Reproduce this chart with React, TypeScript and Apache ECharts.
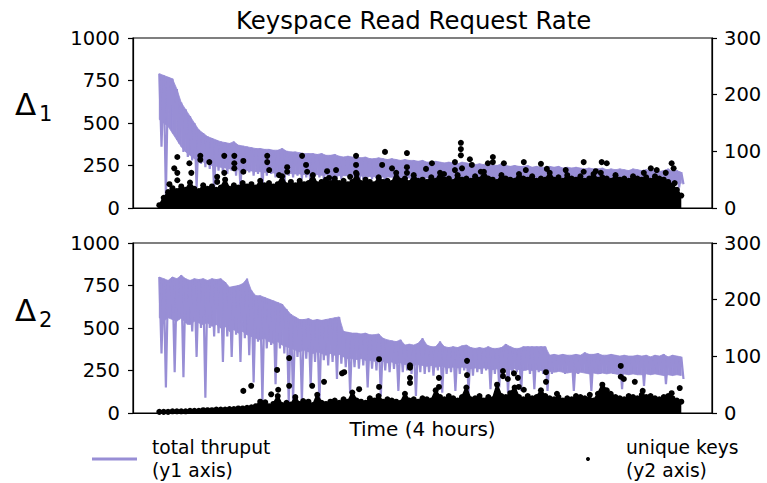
import React, { useEffect, useRef } from "react";
import * as echarts from "echarts";

// time axis: minutes over 4 hours, one bin = 2 minutes
const BIN_MINUTES = 2;

// Panel Δ1 – total thruput, upper envelope per bin (y1 axis)
const thruput1Hi = [
  790, 780, 770, 760, 700, 620, 580, 540, 500, 460,
  440, 420, 410, 400, 390, 385, 380, 390, 370, 365,
  360, 355, 350, 350, 345, 345, 340, 340, 350, 335,
  330, 330, 325, 320, 320, 320, 315, 320, 310, 310,
  315, 305, 300, 305, 300, 300, 295, 300, 290, 290,
  295, 290, 285, 290, 285, 280, 285, 280, 280, 275,
  280, 270, 270, 275, 270, 265, 270, 265, 260, 270,
  265, 260, 255, 260, 255, 250, 255, 250, 260, 250,
  245, 250, 245, 245, 250, 240, 245, 240, 240, 245,
  240, 245, 235, 240, 235, 240, 235, 230, 235, 230,
  230, 235, 225, 230, 225, 230, 225, 220, 230, 225,
  220, 225, 220, 225, 215, 220, 230, 215, 220, 210,
];
// Panel Δ1 – total thruput, lower edge of the solid band per bin
const thruput1Floor = [
  520, 500, 480, 440, 400, 360, 330, 310, 290, 280,
  270, 262, 250, 246, 240, 236, 230, 228, 224, 222,
  220, 218, 214, 214, 210, 210, 206, 206, 205, 202,
  203, 200, 200, 197, 198, 196, 196, 193, 194, 192,
  192, 190, 190, 189, 189, 186, 188, 186, 186, 184,
  185, 182, 184, 181, 182, 180, 181, 178, 180, 177,
  178, 176, 177, 174, 176, 173, 175, 172, 174, 171,
  172, 170, 171, 169, 170, 168, 169, 166, 168, 166,
  167, 165, 166, 163, 165, 162, 164, 161, 163, 160,
  162, 159, 161, 158, 160, 157, 159, 156, 158, 155,
  157, 154, 156, 153, 155, 152, 154, 151, 153, 150,
  152, 149, 151, 148, 150, 147, 149, 146, 148, 145,
];
// Panel Δ1 – total thruput, lower excursions per bin
const thruput1Lo = [
  360, 70, 560, 440, 380, 330, 300, 280, 120, 260,
  240, 230, 100, 220, 210, 200, 220, 190, 120, 200,
  210, 190, 200, 110, 190, 200, 180, 190, 120, 190,
  180, 190, 170, 180, 110, 190, 180, 170, 180, 120,
  180, 170, 190, 170, 180, 100, 170, 180, 170, 175,
  170, 120, 180, 170, 175, 165, 170, 110, 170, 165,
  170, 165, 160, 170, 120, 165, 160, 170, 165, 110,
  160, 165, 170, 160, 120, 165, 160, 155, 165, 110,
  160, 155, 165, 160, 120, 155, 160, 150, 160, 155,
  110, 155, 150, 160, 155, 150, 120, 155, 150, 160,
  150, 155, 110, 150, 155, 145, 150, 120, 150, 145,
  150, 140, 145, 110, 150, 140, 145, 140, 120, 140,
];
// Panel Δ1 – unique keys, top of the dense cloud per bin (y2 axis)
const keys1 = [
  5, 18, 28, 35, 30, 38, 32, 45, 34, 30,
  40, 34, 38, 32, 36, 50, 34, 40, 36, 44,
  38, 42, 36, 48, 40, 44, 38, 42, 56, 40,
  46, 40, 48, 42, 44, 58, 42, 46, 50, 44,
  52, 44, 48, 42, 46, 60, 44, 50, 46, 42,
  54, 46, 48, 44, 62, 48, 52, 44, 58, 48,
  50, 46, 54, 48, 62, 50, 52, 46, 58, 50,
  52, 48, 56, 50, 64, 52, 50, 46, 58, 52,
  50, 48, 60, 52, 50, 56, 48, 52, 50, 62,
  50, 54, 48, 58, 52, 50, 56, 48, 52, 60,
  50, 54, 52, 48, 58, 50, 52, 48, 56, 52,
  50, 54, 48, 56, 52, 50, 46, 40, 32, 22,
];
// Panel Δ1 – unique keys, isolated high points [minute, keys]
const keys1Outliers = [
  [4.6, 42], [6.8, 70], [8.2, 90], [8.2, 62], [8.2, 49], [13.7, 79], [14.6, 62],
  [18.7, 92], [18.7, 85], [22.8, 81], [26.4, 55], [26.4, 46], [29.6, 92], [29.6, 62],
  [34.2, 92], [34.2, 79], [34.2, 70], [38.3, 83], [38.3, 64], [49.2, 92], [49.2, 81],
  [50.1, 67], [54.6, 58], [58.3, 72], [58.3, 64], [65.1, 92], [66.9, 76], [67.4, 64],
  [76.5, 65], [77.4, 53], [80.6, 67], [87.0, 55], [89.7, 92], [89.7, 76], [89.7, 62],
  [101.6, 76], [102.9, 99], [106.1, 70], [112.9, 97], [112.9, 72], [112.9, 62],
  [121.6, 69], [124.3, 79], [129.8, 60], [134.8, 81], [134.8, 67], [137.5, 115],
  [137.5, 104], [137.5, 93], [138.0, 70], [141.6, 86], [142.5, 76], [146.6, 64],
  [149.8, 79], [152.1, 90], [152.1, 81], [157.1, 79], [166.2, 81], [167.1, 67],
  [174.0, 78], [176.7, 69], [185.3, 67], [193.5, 81], [193.5, 64], [199.0, 65],
  [201.3, 62], [201.7, 81], [204.0, 79], [209.5, 48], [220.9, 62], [224.1, 70],
  [226.8, 67], [230.9, 62], [233.6, 79], [234.5, 70], [235.0, 44],
];

// Panel Δ2 – total thruput, upper envelope per bin (y1 axis)
const thruput2Hi = [
  800, 790, 780, 800, 790, 810, 790, 780, 790, 785,
  790, 780, 790, 785, 790, 770, 740, 745, 750, 760,
  790, 720, 690, 690, 680, 670, 660, 650, 640, 610,
  580, 565, 550, 550, 555, 545, 550, 545, 550, 555,
  560, 565, 480, 475, 470, 470, 465, 470, 460, 460,
  465, 440, 430, 425, 420, 430, 400, 405, 400, 410,
  440, 400, 390, 390, 420, 390, 385, 390, 385, 395,
  400, 385, 380, 385, 380, 390, 380, 380, 385, 405,
  390, 380, 380, 390, 390, 390, 390, 390, 390, 340,
  345, 340, 345, 340, 340, 345, 340, 355, 345, 345,
  350, 340, 340, 345, 340, 335, 340, 335, 335, 340,
  335, 340, 330, 340, 335, 345, 330, 340, 335, 330,
];
// Panel Δ2 – total thruput, lower edge of the solid band per bin
const thruput2Floor = [
  560, 540, 560, 550, 540, 560, 530, 520, 540, 530,
  520, 530, 510, 520, 500, 510, 480, 490, 470, 480,
  460, 450, 440, 430, 440, 420, 410, 420, 400, 390,
  380, 370, 360, 370, 360, 350, 360, 350, 340, 350,
  340, 345, 330, 320, 320, 315, 320, 310, 310, 305,
  300, 305, 295, 300, 290, 295, 285, 290, 280, 285,
  280, 275, 280, 270, 275, 270, 265, 270, 265, 270,
  265, 260, 265, 260, 265, 260, 255, 260, 255, 260,
  255, 260, 255, 250, 255, 250, 255, 250, 250, 245,
  240, 245, 240, 235, 240, 235, 240, 235, 230, 235,
  230, 235, 230, 235, 230, 225, 230, 225, 230, 225,
  225, 230, 225, 230, 225, 220, 225, 220, 225, 220,
];
// Panel Δ2 – total thruput, lower excursions per bin
const thruput2Lo = [
  350, 150, 580, 240, 550, 210, 520, 480, 330, 500,
  90, 500, 450, 470, 300, 450, 330, 460, 300, 440,
  340, 180, 420, 65, 380, 400, 170, 380, 350, 60,
  70, 330, 60, 320, 160, 300, 50, 310, 280, 300,
  200, 290, 270, 120, 270, 260, 280, 150, 260, 250,
  100, 250, 240, 260, 130, 240, 250, 230, 100, 240,
  230, 240, 220, 250, 120, 230, 240, 130, 230, 250,
  120, 220, 240, 230, 250, 140, 230, 150, 240, 120,
  230, 240, 130, 250, 230, 140, 240, 230, 130, 230,
  240, 250, 230, 240, 130, 230, 250, 240, 130, 240,
  230, 250, 240, 230, 250, 140, 240, 230, 250, 240,
  160, 240, 250, 230, 240, 170, 250, 240, 230, 200,
];
// Panel Δ2 – unique keys, top of the dense cloud per bin (y2 axis)
const keys2 = [
  2, 2, 2, 3, 3, 3, 3, 4, 4, 4,
  5, 5, 5, 6, 6, 6, 7, 7, 8, 8,
  9, 10, 12, 20, 14, 12, 16, 30, 14, 18,
  15, 28, 16, 18, 20, 14, 32, 18, 16, 20,
  22, 18, 24, 20, 36, 22, 20, 18, 26, 22,
  30, 20, 24, 22, 20, 18, 34, 22, 24, 20,
  26, 24, 22, 40, 28, 24, 30, 26, 22, 28,
  45, 24, 26, 30, 22, 28, 24, 50, 30, 28,
  35, 45, 28, 24, 30, 26, 28, 40, 30, 26,
  24, 28, 22, 26, 24, 30, 28, 26, 24, 22,
  34, 50, 40, 30, 28, 26, 24, 30, 28, 26,
  32, 28, 30, 26, 24, 28, 30, 26, 22, 20,
];
// Panel Δ2 – unique keys, isolated high points [minute, keys]
const keys2Outliers = [
  [59.2, 97], [53.7, 76], [100.2, 95], [114.3, 84], [114.3, 80], [114.3, 62],
  [114.3, 53], [38.3, 39], [41.9, 48], [54.2, 41], [59.2, 48], [69.7, 48],
  [75.1, 55], [83.3, 70], [84.3, 72], [91.1, 42], [100.2, 46], [48.3, 19],
  [51.0, 33], [65.6, 21], [140.3, 92], [140.3, 67], [127.5, 62], [127.5, 46],
  [156.7, 74], [156.7, 65], [158.9, 60], [161.7, 70], [163.5, 62], [163.9, 46],
  [166.2, 41], [176.3, 72], [176.3, 55], [181.3, 34], [190.4, 26], [196.3, 32],
  [205.8, 34], [210.4, 83], [210.4, 64], [211.8, 60], [216.8, 55], [220.4, 39],
  [233.6, 35], [237.3, 44],
];

const y1Ticks = [0, 250, 500, 750, 1000];
const y2Ticks = [0, 100, 200, 300];

const TITLE = "Keyspace Read Request Rate";
const X_LABEL = "Time (4 hours)";
const THRU_NAME = "total thruput\n(y1 axis)";
const KEYS_NAME = "unique keys\n(y2 axis)";

const PURPLE = "#988ED5";
const FONT = "DejaVu Sans";

function zigzag(hi: number[], lo: number[]) {
  const out: number[][] = [];
  hi.forEach((h, i) => {
    out.push([i * BIN_MINUTES, h]);
    out.push([i * BIN_MINUTES + BIN_MINUTES / 2, lo[i]]);
  });
  return out;
}
function bins(v: number[]) {
  return v.map((k, i) => [i * BIN_MINUTES, k]);
}
// one quad per pair of neighbouring bins: [t0, hi0, floor0, t1, hi1, floor1]
function bandSegments(hi: number[], floor: number[]) {
  const out: number[][] = [];
  for (let i = 0; i < hi.length - 1; i++) {
    out.push([i * BIN_MINUTES, hi[i], floor[i], (i + 1) * BIN_MINUTES, hi[i + 1], floor[i + 1]]);
  }
  return out;
}

export default function App() {
  const ref = useRef<HTMLDivElement>(null);
  useEffect(() => {
    if (!ref.current) return;
    const chart = echarts.init(ref.current, undefined, { renderer: "svg" });
    const totalMin = thruput1Hi.length * BIN_MINUTES;
    const pad = totalMin * 0.05;
    const gridTops = [38, 243];
    const grids = gridTops.map((top) => ({
      left: 133,
      width: 579,
      top,
      height: 170,
      show: true,
      borderColor: "#000",
      borderWidth: 1.2,
      containLabel: false,
    }));
    const xAxes = [0, 1].map((g) => ({
      type: "value",
      gridIndex: g,
      min: -pad,
      max: totalMin + pad,
      axisLine: { show: true, onZero: false, lineStyle: { color: "#000", width: 1.2 } },
      axisTick: { show: false },
      axisLabel: { show: false },
      splitLine: { show: false },
      name: g === 1 ? X_LABEL : "",
      nameLocation: "middle",
      nameGap: 6,
      nameTextStyle: { fontFamily: FONT, fontSize: 20, color: "#000", verticalAlign: "top" },
    }));
    const fmt = (v: number) => String(v);
    const yAxis: any[] = [];
    [0, 1].forEach((g) => {
      yAxis.push({
        type: "value",
        gridIndex: g,
        position: "left",
        min: y1Ticks[0],
        max: y1Ticks[y1Ticks.length - 1],
        interval: y1Ticks[1] - y1Ticks[0],
        axisLine: { show: true, onZero: false, lineStyle: { color: "#000", width: 1.2 } },
        axisTick: { show: true, length: 5, lineStyle: { color: "#000", width: 1.2 } },
        axisLabel: { fontFamily: FONT, fontSize: 19.5, color: "#000", margin: 13, formatter: fmt },
        splitLine: { show: false },
      });
      yAxis.push({
        type: "value",
        gridIndex: g,
        position: "right",
        min: y2Ticks[0],
        max: y2Ticks[y2Ticks.length - 1],
        interval: y2Ticks[1] - y2Ticks[0],
        axisLine: { show: true, onZero: false, lineStyle: { color: "#000", width: 1.2 } },
        axisTick: { show: true, length: 5, lineStyle: { color: "#000", width: 1.2 } },
        axisLabel: { fontFamily: FONT, fontSize: 19.5, color: "#000", margin: 12, formatter: fmt },
        splitLine: { show: false },
      });
    });

    const panels = [
      { hi: thruput1Hi, floor: thruput1Floor, lo: thruput1Lo, keys: keys1, out: keys1Outliers },
      { hi: thruput2Hi, floor: thruput2Floor, lo: thruput2Lo, keys: keys2, out: keys2Outliers },
    ];
    const series: any[] = [];
    panels.forEach((p, g) => {
      // solid band between floor and upper envelope
      series.push({
        name: "thruput band",
        type: "custom",
        xAxisIndex: g,
        yAxisIndex: g * 2,
        data: bandSegments(p.hi, p.floor),
        encode: { x: [0, 3], y: [1, 2, 4, 5] },
        silent: true,
        clip: true,
        renderItem: (_params: any, api: any) => {
          const a = api.coord([api.value(0), api.value(1)]);
          const b = api.coord([api.value(3), api.value(4)]);
          const c = api.coord([api.value(3), api.value(5)]);
          const d = api.coord([api.value(0), api.value(2)]);
          return {
            type: "polygon",
            shape: { points: [a, b, c, d] },
            style: { fill: PURPLE, stroke: PURPLE, lineWidth: 0.8 },
          };
        },
        z: 1,
      });
      // high-frequency swings and dips
      series.push({
        name: THRU_NAME,
        type: "line",
        xAxisIndex: g,
        yAxisIndex: g * 2,
        data: zigzag(p.hi, p.lo),
        symbol: "none",
        lineStyle: { color: PURPLE, width: 2.2 },
        itemStyle: { color: PURPLE },
        z: 2,
      });
      series.push({
        name: "keys cloud",
        type: "line",
        xAxisIndex: g,
        yAxisIndex: g * 2 + 1,
        data: bins(p.keys),
        symbol: "circle",
        symbolSize: 6,
        showSymbol: true,
        showAllSymbol: true,
        lineStyle: { color: "#000", width: 2 },
        itemStyle: { color: "#000", opacity: 1 },
        areaStyle: { color: "#000", opacity: 1 },
        z: 3,
      });
      series.push({
        name: KEYS_NAME,
        type: "scatter",
        xAxisIndex: g,
        yAxisIndex: g * 2 + 1,
        data: p.out,
        symbol: "circle",
        symbolSize: 6,
        itemStyle: { color: "#000", opacity: 1 },
        z: 4,
      });
    });

    const legendText = { fontFamily: FONT, fontSize: 18.7, color: "#000", lineHeight: 23 };
    chart.setOption({
      animation: false,
      title: {
        text: TITLE,
        left: 236,
        top: 8,
        padding: 0,
        textStyle: { fontFamily: FONT, fontSize: 24.4, fontWeight: "normal", color: "#000" },
      },
      grid: grids,
      xAxis: xAxes,
      yAxis,
      legend: [
        {
          data: [THRU_NAME],
          left: 92,
          top: 436,
          padding: 0,
          icon: "rect",
          itemWidth: 45,
          itemHeight: 3,
          selectedMode: false,
          textStyle: { ...legendText, padding: [0, 0, 0, 10] },
        },
        {
          data: [KEYS_NAME],
          left: 586,
          top: 436,
          padding: 0,
          icon: "circle",
          itemWidth: 4,
          itemHeight: 4,
          selectedMode: false,
          textStyle: { ...legendText, padding: [0, 0, 0, 31] },
        },
      ],
      graphic: [
        { type: "text", x: 15, y: 104, style: { text: "Δ", font: `31px '${FONT}'`, fill: "#000", textVerticalAlign: "middle" } },
        { type: "text", x: 39, y: 114, style: { text: "1", font: `21px '${FONT}'`, fill: "#000", textVerticalAlign: "middle" } },
        { type: "text", x: 15, y: 310, style: { text: "Δ", font: `31px '${FONT}'`, fill: "#000", textVerticalAlign: "middle" } },
        { type: "text", x: 39, y: 320, style: { text: "2", font: `21px '${FONT}'`, fill: "#000", textVerticalAlign: "middle" } },
      ],
      series,
    });
    return () => chart.dispose();
  }, []);
  return <div ref={ref} style={{ position: "absolute", left: 0, top: 0, width: 767, height: 483 }} />;
}
